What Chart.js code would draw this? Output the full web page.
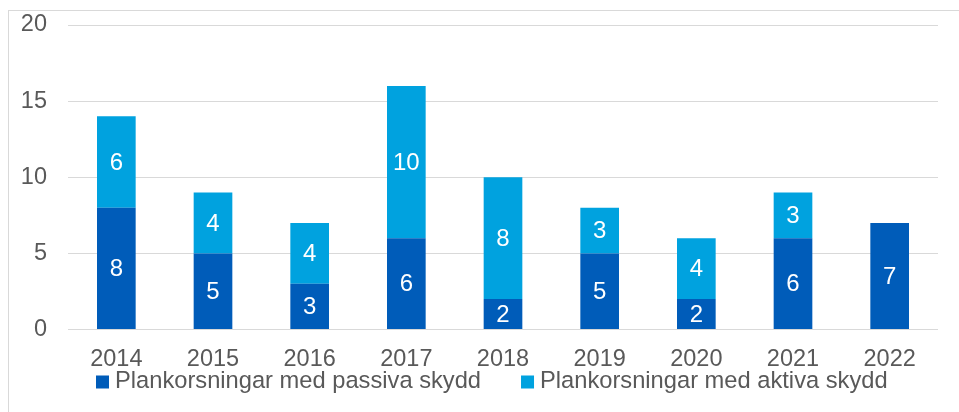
<!DOCTYPE html>
<html>
<head>
<meta charset="utf-8">
<script src="https://cdn.jsdelivr.net/npm/chart.js@4"></script>
<style>
  html, body { margin: 0; padding: 0; background: #fff; }
  #wrap { position: relative; width: 959px; height: 412px; }
</style>
</head>
<body>
<div id="wrap"><canvas id="chart" width="959" height="412"></canvas></div>
<script>
/* ── Data ── */
const years   = ['2014', '2015', '2016', '2017', '2018', '2019', '2020', '2021', '2022'];
const passiva = [8, 5, 3, 6, 2, 5, 2, 6, 7];
const aktiva  = [6, 4, 4, 10, 8, 3, 4, 3, null];
const yTicks  = [0, 5, 10, 15, 20];

const FONT = 'Liberation Sans, Arial, sans-serif';
const TEXT = '#595959';
const GRID = '#d9d9d9';

/* ── Frame around the chart (cut off right/bottom like the source) ── */
const frame = {
  id: 'frame',
  beforeDraw(chart) {
    const { ctx } = chart;
    ctx.save();
    ctx.fillStyle = GRID;
    ctx.fillRect(8, 10, 1, chart.height);
    ctx.fillRect(8, 10, chart.width, 1);
    ctx.restore();
  },
};

/* ── White value labels centred in each segment ── */
const valueLabels = {
  id: 'valueLabels',
  afterDatasetsDraw(chart) {
    const { ctx } = chart;
    ctx.save();
    ctx.font = '24px ' + FONT;
    ctx.fillStyle = '#fff';
    ctx.textAlign = 'center';
    ctx.textBaseline = 'middle';
    chart.data.datasets.forEach((ds, i) => {
      chart.getDatasetMeta(i).data.forEach((bar, j) => {
        const v = ds.data[j];
        if (v == null || v === 0) return;
        ctx.fillText(String(v), bar.x, (bar.y + bar.base) / 2 + 1);
      });
    });
    ctx.restore();
  },
};

/* ── Legend under the axis, left-ish like Excel puts it ── */
const bottomLegend = {
  id: 'bottomLegend',
  afterDraw(chart) {
    const { ctx } = chart;
    let x = 96;
    const y = 382;
    ctx.save();
    ctx.font = '23.7px ' + FONT;
    ctx.textBaseline = 'middle';
    ctx.textAlign = 'left';
    chart.data.datasets.forEach(ds => {
      ctx.fillStyle = ds.backgroundColor;
      ctx.fillRect(x, y - 6.5, 13, 13);
      x += 13 + 6;
      ctx.fillStyle = TEXT;
      ctx.fillText(ds.label, x, y - 1);
      x += ctx.measureText(ds.label).width + 40;
    });
    ctx.restore();
  },
};

new Chart(document.getElementById('chart').getContext('2d'), {
  type: 'bar',
  data: {
    labels: years,
    datasets: [
      {
        label: 'Plankorsningar med passiva skydd',
        data: passiva,
        backgroundColor: '#005cb9',
        barPercentage: 0.4,
        categoryPercentage: 1,
      },
      {
        label: 'Plankorsningar med aktiva skydd',
        data: aktiva,
        backgroundColor: '#00a2df',
        barPercentage: 0.4,
        categoryPercentage: 1,
      },
    ],
  },
  options: {
    responsive: false,
    animation: false,
    layout: { padding: { top: 25, right: 21, bottom: 0, left: 0 } },
    plugins: {
      legend: { display: false },
      tooltip: { enabled: false },
    },
    scales: {
      x: {
        stacked: true,
        grid: { display: false, drawTicks: false },
        border: { display: false },
        ticks: { font: { family: FONT, size: 23.5 }, color: TEXT, padding: 16, maxRotation: 0 },
        afterFit: s => { s.height = 82.5; },
      },
      y: {
        stacked: true,
        min: 0,
        max: 20,
        afterBuildTicks: s => { s.ticks = yTicks.map(v => ({ value: v })); },
        grid: { color: GRID, lineWidth: 1, drawTicks: false },
        border: { display: false },
        ticks: { font: { family: FONT, size: 23.5 }, color: TEXT, padding: 21 },
        afterFit: s => { s.width = 68; s.paddingTop = 0; s.paddingBottom = 0; },
      },
    },
  },
  plugins: [frame, valueLabels, bottomLegend],
});
</script>
</body>
</html>
